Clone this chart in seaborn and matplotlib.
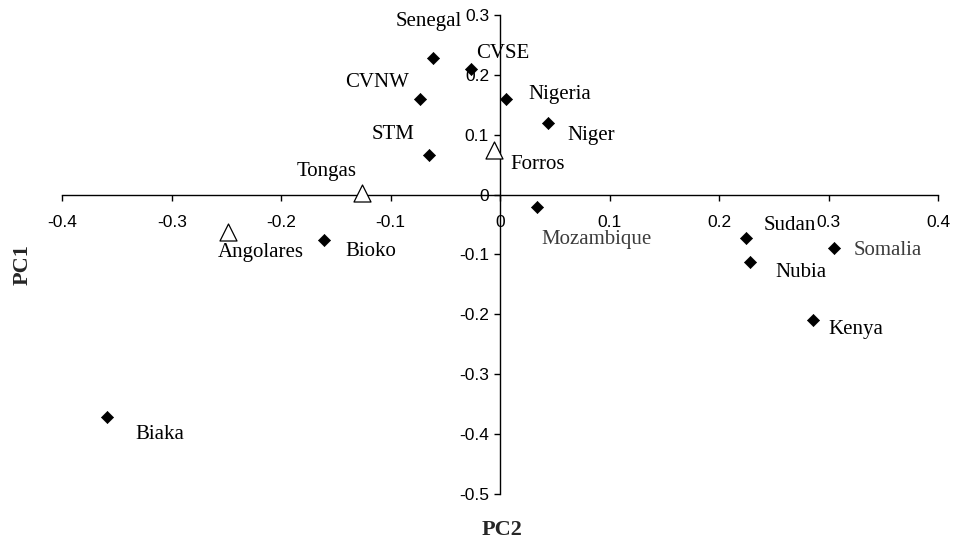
import matplotlib
matplotlib.use("Agg")
import matplotlib.pyplot as plt
import seaborn as sns
import pandas as pd

# PCA scores
names = ["Senegal", "CVSE", "CVNW", "Nigeria", "Niger", "STM", "Forros",
         "Tongas", "Angolares", "Bioko", "Mozambique", "Sudan", "Somalia",
         "Nubia", "Kenya", "Biaka"]
pc2 = [-0.061, -0.027, -0.073, 0.005, 0.044, -0.065, -0.006,
       -0.126, -0.249, -0.161, 0.034, 0.225, 0.305,
       0.228, 0.286, -0.359]
pc1 = [0.229, 0.209, 0.160, 0.159, 0.119, 0.067, 0.074,
       0.003, -0.062, -0.075, -0.021, -0.072, -0.089,
       -0.113, -0.209, -0.372]
group = ["ref", "ref", "ref", "ref", "ref", "ref", "tri",
         "tri", "tri", "ref", "ref", "ref", "ref",
         "ref", "ref", "ref"]

x_ticks = [-0.4, -0.3, -0.2, -0.1, 0, 0.1, 0.2, 0.3, 0.4]
x_tick_labels = ["-0.4", "-0.3", "-0.2", "-0.1", "0", "0.1", "0.2", "0.3", "0.4"]
y_ticks = [-0.5, -0.4, -0.3, -0.2, -0.1, 0, 0.1, 0.2, 0.3]
y_tick_labels = ["-0.5", "-0.4", "-0.3", "-0.2", "-0.1", "0", "0.1", "0.2", "0.3"]

df = pd.DataFrame({"name": names, "PC2": pc2, "PC1": pc1, "group": group})

# label offsets from the marker, in pixels (right, down)
label_off = {
    "Senegal": (-5, -36), "CVSE": (32, -16), "CVNW": (-43, -16),
    "Nigeria": (54, -5), "Niger": (43, 12), "STM": (-36, -20),
    "Forros": (44, 14), "Tongas": (-36, -21), "Angolares": (33, 21),
    "Bioko": (47, 12), "Mozambique": (59, 32), "Sudan": (43, -12),
    "Somalia": (54, 3), "Nubia": (51, 10), "Kenya": (43, 10),
    "Biaka": (53, 17),
}
grey_labels = {"Mozambique", "Somalia"}

sns.set_style("white")
plt.rcParams["font.family"] = ["Liberation Sans", "DejaVu Sans"]

fig = plt.figure(figsize=(9.54, 5.42), dpi=100)
ax = fig.add_axes([0.0653, 0.0886, 0.918, 0.8837])

sns.scatterplot(data=df[df["group"] == "ref"], x="PC2", y="PC1", marker="D",
                s=38, color="black", edgecolor="black", linewidth=0.5,
                ax=ax, clip_on=False, zorder=3)
sns.scatterplot(data=df[df["group"] == "tri"], x="PC2", y="PC1", marker="^",
                s=150, color="white", edgecolor="black", linewidth=0.9,
                ax=ax, clip_on=False, zorder=3)

for _, r in df.iterrows():
    dx, dy = label_off[r["name"]]
    ax.annotate(r["name"], (r["PC2"], r["PC1"]),
                xytext=(dx * 0.72, -dy * 0.72), textcoords="offset points",
                ha="center", va="center", fontsize=15,
                family=["Liberation Serif", "DejaVu Serif"],
                color="#3c3c3c" if r["name"] in grey_labels else "black",
                annotation_clip=False)

ax.set_xlim(-0.4, 0.4)
ax.set_ylim(-0.5, 0.3)
ax.set_xticks(x_ticks)
ax.set_xticklabels(x_tick_labels)
ax.set_yticks(y_ticks)
ax.set_yticklabels(y_tick_labels)

ax.spines["left"].set_position(("data", 0))
ax.spines["bottom"].set_position(("data", 0))
ax.spines["top"].set_visible(False)
ax.spines["right"].set_visible(False)
for sp in ("left", "bottom"):
    ax.spines[sp].set_color("black")
    ax.spines[sp].set_linewidth(1.0)

ax.tick_params(axis="x", direction="out", length=4, width=1.0, pad=10.5,
               labelsize=12.5, colors="black", bottom=True)
ax.tick_params(axis="y", direction="out", length=4, width=1.0, pad=4,
               labelsize=12.5, colors="black", left=True)

ax.set_xlabel("")
ax.set_ylabel("")
fig.text(0.024, 0.511, "PC1", rotation=90, ha="center", va="center",
         fontsize=16, fontweight="bold", family=["Liberation Serif", "DejaVu Serif"])
fig.text(0.526, 0.022, "PC2", ha="center", va="center",
         fontsize=16, fontweight="bold", family=["Liberation Serif", "DejaVu Serif"])

fig.savefig("out.png", dpi=100, facecolor="white")
